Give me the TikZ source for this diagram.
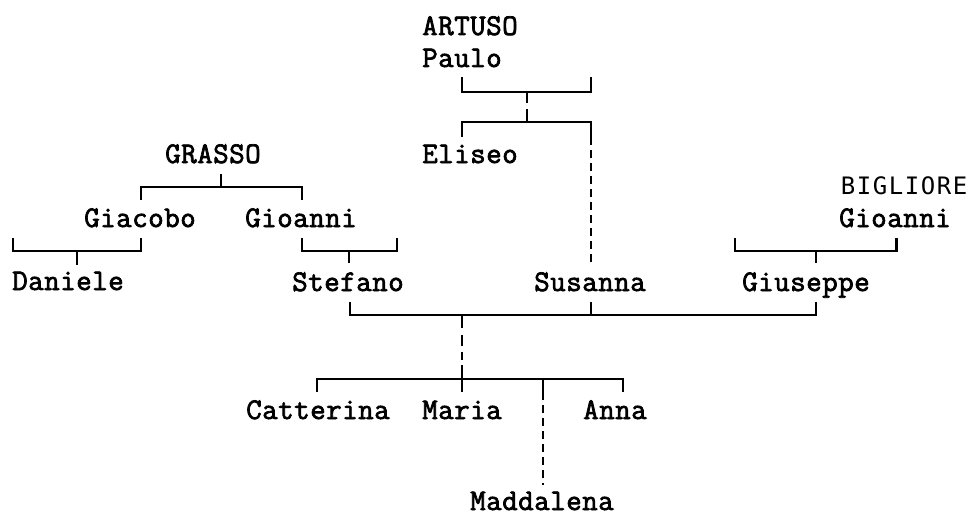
\documentclass[tikz,border=0pt]{standalone}
\usepackage{fontspec}
\newfontfamily\treefont{Latin Modern Mono}[FakeBold=2.4]
\newfontfamily\sansmono{DejaVu Sans Mono}
\makeatletter
\newcommand\cells[1]{\cells@i#1\relax}
\def\cells@i#1{\ifx#1\relax\else\makebox[12pt]{#1}\expandafter\cells@i\fi}
\makeatother
\begin{document}
\begin{tikzpicture}[x=0.75pt,y=-0.75pt,
  person/.style={anchor=base west,inner sep=0pt,outer sep=0pt,
    font=\treefont\fontsize{22.5pt}{22.5pt}\selectfont},
  sperson/.style={anchor=base west,inner sep=0pt,outer sep=0pt,
    font=\sansmono\fontsize{18pt}{18pt}\selectfont},
  link/.style={line width=1.6pt,line cap=butt,line join=miter},
  dlink/.style={link,dash pattern=on 6pt off 3.75pt}]
\useasboundingbox (0,0) rectangle (968,517);

% names
\node[person] (artuso) at (422,35) {\cells{ARTUSO}};
\node[person] (paulo) at (422,67) {\cells{Paulo}};
\node[person] (eliseo) at (422,163) {\cells{Eliseo}};
\node[person] (grasso) at (165,163) {\cells{GRASSO}};
\node[person] (giacobo) at (84,227) {\cells{Giacobo}};
\node[person] (gioanniG) at (245,227) {\cells{Gioanni}};
\node[person] (daniele) at (12,290) {\cells{Daniele}};
\node[person] (stefano) at (292,291) {\cells{Stefano}};
\node[person] (susanna) at (534,291) {\cells{Susanna}};
\node[person] (giuseppe) at (742,291) {\cells{Giuseppe}};
\node[sperson] (bigliore) at (840,194) {\cells{BIGLIORE}};
\node[person] (gioanniB) at (839,227) {\cells{Gioanni}};
\node[person] (catterina) at (246,419) {\cells{Catterina}};
\node[person] (maria) at (422,419) {\cells{Maria}};
\node[person] (anna) at (583,419) {\cells{Anna}};
\node[person] (maddalena) at (470,510) {\cells{Maddalena}};

% junction points
\coordinate (pL) at (462,77);  \coordinate (pR) at (591,77);
\coordinate (pM) at (527,92);  \coordinate (pM1) at (527,103);
\coordinate (eM0) at (527,109); \coordinate (eM) at (527,122);
\coordinate (eL) at (462,137); \coordinate (eR) at (591,137);
\coordinate (sUp) at (591,262);

\coordinate (gT) at (220.7,174); \coordinate (gM) at (220.7,187);
\coordinate (gL) at (141,200);  \coordinate (gR) at (302,200);

\coordinate (jL) at (13,238);   \coordinate (jR) at (141,238);
\coordinate (jM) at (77,251);   \coordinate (jD) at (77,265);

\coordinate (oL) at (302,238);  \coordinate (oR) at (397,238);
\coordinate (oM) at (349,251);  \coordinate (oD) at (349,263);

\coordinate (bL) at (735,238);  \coordinate (bR) at (896.5,238);
\coordinate (bM) at (816,251);  \coordinate (bD) at (816,263);

\coordinate (mL) at (350,302);  \coordinate (mR) at (816,302);
\coordinate (mS) at (591,302);  \coordinate (mSb) at (591,315);
\coordinate (mC) at (462,315);  \coordinate (mC1) at (462,328);
\coordinate (mC2) at (462,365); \coordinate (cM) at (462,379);

\coordinate (cL) at (317,392);  \coordinate (cR) at (623,392);
\coordinate (cMa) at (462,392); \coordinate (cMd) at (543,379);
\coordinate (cMd1) at (543,392); \coordinate (cMd2) at (543,485);

% ARTUSO Paulo -> Eliseo, Susanna
\draw[link] (pL) |- (pM) -| (pR);
\draw[link] (pM) -- (pM1);
\draw[link] (eM0) -- (eM);
\draw[link] (eL) |- (eM) -| (eR);
\draw[dlink] (eR) -- (sUp);

% GRASSO -> Giacobo, Gioanni
\draw[link] (gT) -- (gM);
\draw[link] (gL) |- (gM) -| (gR);

% Giacobo -> Daniele
\draw[link] (jL) |- (jM) -| (jR);
\draw[link] (jM) -- (jD);

% Gioanni -> Stefano
\draw[link] (oL) |- (oM) -| (oR);
\draw[link] (oM) -- (oD);

% BIGLIORE Gioanni -> Giuseppe
\draw[link] (bL) |- (bM) -| (bR);
\draw[link] (bM) -- (bD);

% Stefano, Susanna, Giuseppe
\draw[link] (mL) |- (mC) -| (mR);
\draw[link] (mS) -- (mSb);
\draw[link] (mC) -- (mC1);
\draw[dlink,dash pattern=on 0pt off 5.5pt on 8pt off 4.5pt on 6pt off 10pt] (mC1) -- (mC2);
\draw[link] (mC2) -- (cM);

% children
\draw[link] (cL) |- (cM) -| (cR);
\draw[link] (cM) -- (cMa);
\draw[link] (cMd) -- (cMd1);
\draw[dlink] (cMd1) -- (cMd2);
\end{tikzpicture}
\end{document}
